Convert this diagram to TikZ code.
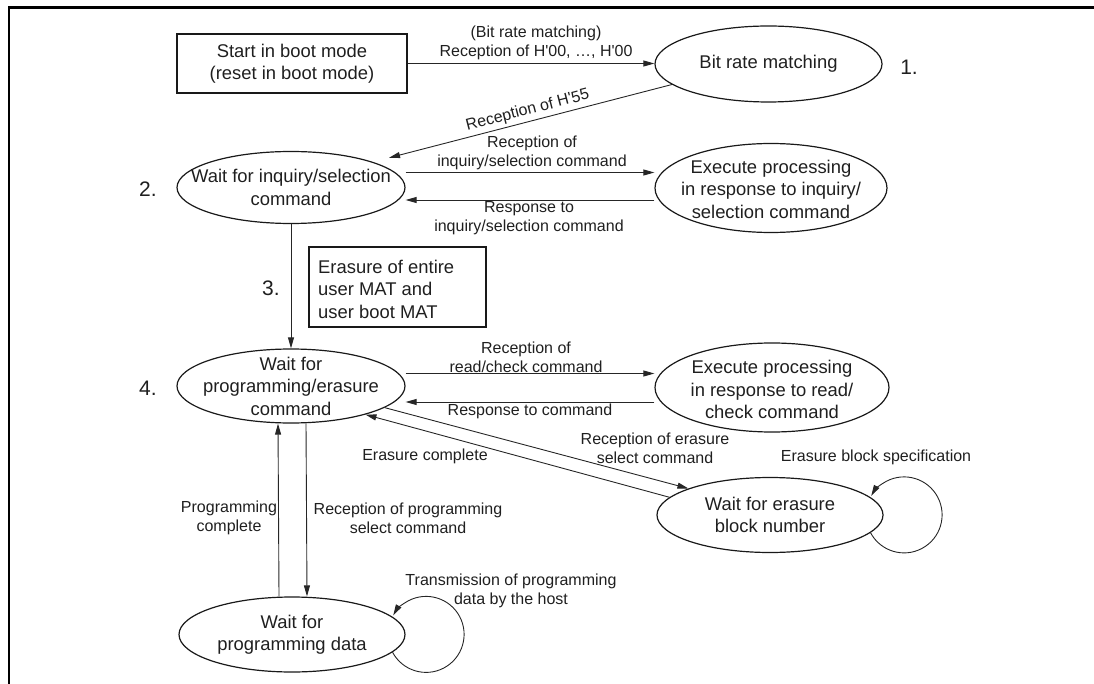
\documentclass[tikz,border=0pt]{standalone}
\usepackage{fontspec}
\setmainfont{Liberation Sans}[Ligatures=TeXOff]
\usetikzlibrary{arrows.meta,shapes.geometric,calc}
\newcommand\nodefs{\fontsize{18.4}{22.5}\selectfont}
\newcommand\labfs{\fontsize{16}{19}\selectfont}
\newcommand\numfs{\fontsize{21}{24}\selectfont}
\begin{document}
\begin{tikzpicture}[x=1pt,y=-1pt,
  ell/.style={ellipse, draw=black!90, line width=1.2pt, inner sep=0pt},
  box/.style={rectangle, draw=black!90, line width=1.2pt, inner sep=0pt},
  txt/.style={align=center, font=\nodefs, text=black!88, inner sep=0pt},
  lab/.style={align=center, font=\labfs, text=black!88, inner sep=0pt},
  num/.style={font=\numfs, text=black!88, inner sep=0pt},
  arr/.style={-{Triangle[length=11pt,width=6pt]}, line width=0.9pt, draw=black!85},
  frameline/.style={line width=2.7pt, draw=black}
]
\useasboundingbox (0,0) rectangle (1094,684);
% frame
\draw[frameline] (9,684) -- (9,7.3) -- (1094,7.3);

% nodes
\node[box, minimum width=230pt, minimum height=59pt] (start) at (292,63.5) {};
\node[txt] (startt) at (start) {Start in boot mode\\(reset in boot mode)};

\node[ell, minimum width=227pt, minimum height=76pt] (n1) at (768.5,64) {};
\node[txt] (n1t) at (n1) {Bit rate matching};
\node[num] (l1) at (909,67) {1.};

\node[ell, minimum width=228pt, minimum height=72pt] (n2) at (291,187.5) {};
\node[txt] (n2t) at (n2) {Wait for inquiry/selection\\command};
\node[num] (l2) at (148,189) {2.};

\node[ell, minimum width=232pt, minimum height=89pt] (n2b) at (771,188) {};
\node[txt] (n2bt) at ([yshift=-1pt]n2b) {Execute processing\\in response to inquiry/\\selection command};

\node[box, minimum width=177pt, minimum height=80pt] (er) at (397.5,287) {};
\node[txt, align=left, anchor=west] (ert) at (318,289) {Erasure of entire\\user MAT and\\user boot MAT};
\node[num] (l3) at (271,288) {3.};

\node[ell, minimum width=228pt, minimum height=74pt] (n4) at (291,386) {};
\node[txt] (n4t) at (n4) {Wait for\\programming/erasure\\command};
\node[num] (l4) at (148,388) {4.};

\node[ell, minimum width=234pt, minimum height=89pt] (n4b) at (772,387.5) {};
\node[txt] (n4bt) at ([yshift=-2pt]n4b) {Execute processing\\in response to read/\\check command};

\node[ell, minimum width=226pt, minimum height=75pt] (n5) at (770,515) {};
\node[txt] (n5t) at (n5) {Wait for erasure\\block number};

\node[ell, minimum width=226pt, minimum height=75pt] (n6) at (292,634.5) {};
\node[txt] (n6t) at (n6) {Wait for\\programming data};

% connectors
\draw[arr] (start.east) -- (start.east -| n1.west);
\node[lab] (e1) at (536,42.5) {(Bit rate matching)\\Reception of H'00, …, H'00};

\draw[arr] (n1.192) -- node[lab, sloped, above=3pt, pos=0.5] (e2) {Reception of H'55} ([xshift=27pt,yshift=1pt]n2.22);

\draw[arr] ([yshift=15pt]n2.east) -- ([yshift=15pt]n2.east -| n2b.west);
\node[lab] (e3) at (532,152.5) {Reception of\\inquiry/selection command};
\draw[arr] ([yshift=-12pt]n2b.west) -- ([yshift=-12pt]n2b.west -| n2.east);
\node[lab] (e4) at (529,218.5) {Response to\\inquiry/selection command};

\draw[arr] (n2.south) -- (n4.north);

\draw[arr] ([yshift=12.5pt]n4.east) -- ([yshift=12.5pt]n4.east -| n4b.west);
\node[lab] (e5) at (526,357) {Reception of\\read/check command};
\draw[arr] ([yshift=-14.5pt]n4b.west) -- ([yshift=-14.5pt]n4b.west -| n4.east);
\node[lab] (e6) at (530,411) {Response to command};

\draw[arr] (n4.-13) -- (n5.162);
\node[lab] (e7) at (655,448.5) {Reception of erasure\\select command};
\draw[arr] (n5.170.6) -- (n4.-21.2);
\node[lab] (e8) at (425,456) {Erasure complete};

\draw[arr] ([xshift=15pt]n4.south) -- ([xshift=15pt]n6.north);
\node[lab] (e9) at (408,518) {Reception of programming\\select command};
\draw[arr] ([xshift=-13pt]n6.north) -- ([xshift=-13pt]n4.south);
\node[lab] (e10) at (229,518) {Programming\\complete};

% self loops
\draw[arr] (n5.-10) arc[start angle=152, end angle=-150, radius=38];
\node[lab] (e11) at (876,457) {Erasure block specification};
\draw[arr] (n6.-10.6) arc[start angle=152, end angle=-150, radius=38];
\node[lab] (e12) at (511,591) {Transmission of programming\\data by the host};
\end{tikzpicture}
\end{document}
